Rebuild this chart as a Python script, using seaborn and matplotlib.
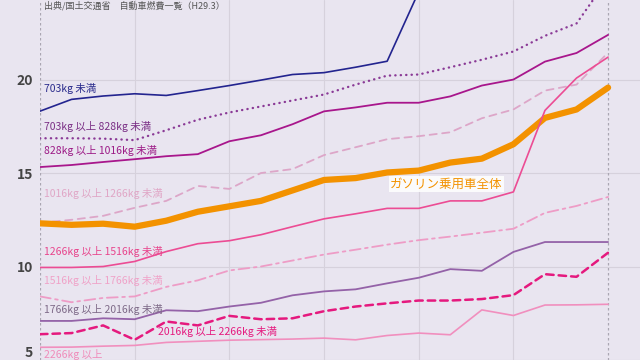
import numpy as np
import pandas as pd
import matplotlib
matplotlib.use("Agg")
import matplotlib.pyplot as plt
import matplotlib.transforms as mtransforms
import seaborn as sns

# data (19 points, x = index)
x = list(range(19))
w_703 = [18.31, 18.94, 19.12, 19.24, 19.15, 19.41, 19.68, 19.97, 20.27, 20.37,
         20.66, 20.98, 24.7, 26.5, 27.5, 28.0, 28.5, 29.0, 29.5]
w_703_828 = [16.86, 16.86, 16.84, 16.76, 17.29, 17.85, 18.24, 18.56, 18.88, 19.2,
             19.73, 20.21, 20.27, 20.66, 21.06, 21.5, 22.34, 23.0, 25.4]
w_828_1016 = [15.32, 15.43, 15.59, 15.74, 15.90, 16.01, 16.70, 17.02, 17.61, 18.30,
              18.51, 18.76, 18.76, 19.10, 19.68, 20.0, 20.96, 21.42, 22.39]
w_1016_1266 = [12.34, 12.5, 12.71, 13.14, 13.51, 14.31, 14.15, 15.0, 15.21, 15.96,
               16.38, 16.81, 16.97, 17.18, 17.93, 18.40, 19.41, 19.73, 21.44]
total = [12.31, 12.23, 12.29, 12.13, 12.45, 12.93, 13.22, 13.51, 14.07, 14.63,
         14.73, 15.03, 15.13, 15.56, 15.77, 16.54, 17.95, 18.40, 19.57]
w_1266_1516 = [9.95, 9.95, 10.0, 10.27, 10.80, 11.22, 11.38, 11.70, 12.13, 12.55,
               12.82, 13.11, 13.11, 13.51, 13.51, 13.99, 18.35, 20.08, 21.20]
w_1516_1766 = [8.40, 8.09, 8.32, 8.40, 8.91, 9.26, 9.79, 10.0, 10.32, 10.64,
               10.90, 11.17, 11.41, 11.60, 11.81, 12.02, 12.87, 13.24, 13.72]
w_1766_2016 = [7.09, 7.09, 7.23, 7.18, 7.66, 7.61, 7.86, 8.06, 8.46, 8.67,
               8.78, 9.10, 9.40, 9.86, 9.77, 10.78, 11.31, 11.31, 11.31]
w_2016_2266 = [6.38, 6.44, 6.85, 6.08, 7.06, 6.85, 7.36, 7.18, 7.23, 7.61,
               7.86, 8.03, 8.18, 8.18, 8.26, 8.47, 9.59, 9.45, 10.74]
w_2266 = [5.68, 5.69, 5.74, 5.78, 5.94, 6.0, 6.06, 6.09, 6.12, 6.17,
          6.08, 6.31, 6.44, 6.35, 7.68, 7.38, 7.94, 7.95, 7.98]

names = ["703kg 未満", "703kg 以上 828kg 未満", "828kg 以上 1016kg 未満",
         "1016kg 以上 1266kg 未満", "ガソリン乗用車全体", "1266kg 以上 1516kg 未満",
         "1516kg 以上 1766kg 未満", "1766kg 以上 2016kg 未満",
         "2016kg 以上 2266kg 未満", "2266kg 以上"]
series = [w_703, w_703_828, w_828_1016, w_1016_1266, total, w_1266_1516,
          w_1516_1766, w_1766_2016, w_2016_2266, w_2266]

# styles
colors = ["#23248f", "#8a3a96", "#a8168c", "#dda6c8", "#f39200", "#ec4c94",
          "#ee9cc6", "#9462a8", "#e5197e", "#f18fbe"]
text_colors = ["#2a2b8c", "#7a2f85", "#9c1a86", "#e0a6c6", "#f39200", "#e8448c",
               "#f0a2c8", "#7e6a88", "#e5197e", "#f08cba"]
styles = ["-", (0, (0.1, 2.2)), "-", (0, (4, 3)), "-", "-",
          (0, (6, 2.5, 1.5, 2.5)), "-", (0, (3, 2)), "-"]
widths = [1.2, 1.7, 1.3, 1.3, 4.5, 1.2, 1.3, 1.3, 1.8, 1.2]

# label positions in data units (x index, y value)
label_pos = [(0.13, 19.52), (0.13, 17.5), (0.13, 16.22), (0.13, 13.93), (11.1, 14.41),
             (0.13, 10.8), (0.13, 9.27), (0.13, 7.72), (3.75, 6.5), (0.13, 5.3)]

bg = "#e9e5f0"
sns.set_theme(style="white", rc={"axes.facecolor": bg, "figure.facecolor": bg})
plt.rcParams["font.family"] = ["Noto Sans CJK JP", "DejaVu Sans"]

fig = plt.figure(figsize=(6.4, 3.6), dpi=100)
ax = fig.add_axes([40 / 640, 0, 600 / 640, 1])

for name, vals, c, ls, lw in zip(names, series, colors, styles, widths):
    sns.lineplot(x=x, y=vals, ax=ax, color=c, linestyle=ls, linewidth=lw,
                 dash_capstyle="round", solid_capstyle="round", zorder=3)

for (lx, ly), name, tc in zip(label_pos, names, text_colors):
    if name == "ガソリン乗用車全体":
        ax.text(lx, ly, name, color=tc, fontsize=9, va="center", ha="left", zorder=5,
                bbox=dict(facecolor="white", edgecolor="none", pad=1.2, alpha=0.85))
    else:
        ax.text(lx, ly, name, color=tc, fontsize=7.5, va="center", ha="left", zorder=5)

ax.text(0.13, 23.95, "出典/国土交通省　自動車燃費一覧（H29.3）", color="#555555",
        fontsize=6.5, va="center", ha="left")

ax.set_xlim(0, 600 / 31.56)
ax.set_ylim(20 - 280 / 18.8, 20 + 80 / 18.8)
ax.set_xticks([3, 6, 9, 12, 15])
ax.set_xticklabels([])
ax.set_yticks([5, 10, 15, 20])
ax.set_yticklabels(["5", "10", "15", "20"], fontweight="bold", color="#444444", fontsize=10)
ax.tick_params(axis="both", length=0, pad=5)
# lift the bottom "5" so it stays inside the picture
lbl5 = ax.get_yticklabels()[0]
lbl5.set_transform(lbl5.get_transform() +
                   mtransforms.ScaledTranslation(0, 6 / 72, fig.dpi_scale_trans))
ax.grid(True, color="#d6d1dc", linewidth=0.8)
for s in ax.spines.values():
    s.set_visible(False)
ax.axvline(0, color="#aaa6b2", linestyle=(0, (2, 2)), linewidth=0.9, zorder=2)
ax.axvline(18, color="#aaa6b2", linestyle=(0, (2, 2)), linewidth=0.9, zorder=2)
ax.set_xlabel("")
ax.set_ylabel("")

plt.savefig("out.png", dpi=100, facecolor=bg)
